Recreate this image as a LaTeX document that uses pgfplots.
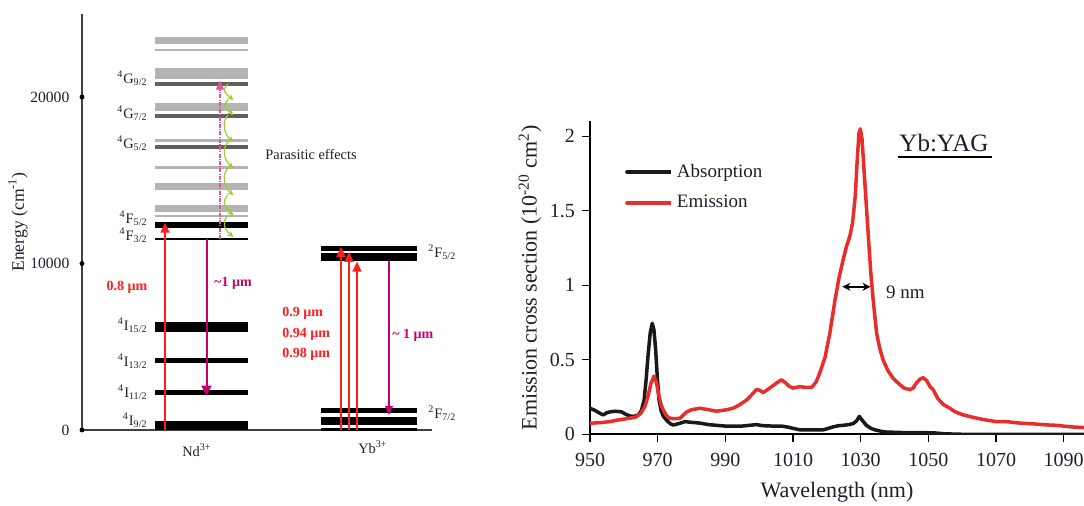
\documentclass[border=0pt]{standalone}
\usepackage{pgfplots}
\pgfplotsset{compat=1.18}
\usepackage{fontspec}
\setmainfont{Liberation Serif}
\usetikzlibrary{arrows.meta}

\definecolor{txt}{RGB}{30,30,45}
\definecolor{lgray}{RGB}{180,180,180}
\definecolor{dgray}{RGB}{95,95,95}
\definecolor{pumpred}{RGB}{255,30,30}
\definecolor{lasermag}{RGB}{200,0,110}
\definecolor{upconv}{RGB}{225,85,155}
\definecolor{relax}{RGB}{155,205,50}
\definecolor{emred}{RGB}{232,45,45}
\definecolor{absblack}{RGB}{25,25,25}

% energy level of Nd3+ (colour, energy in cm^-1, bar thickness)
\newcommand{\ndlevel}[3]{\addplot[draw=#1, line width=#3, forget plot] coordinates {(155,#2) (248,#2)};}
% energy level of Yb3+ (energy in cm^-1, bar thickness)
\newcommand{\yblevel}[2]{\addplot[draw=black, line width=#2, forget plot] coordinates {(321,#1) (417,#1)};}
% term symbol  ^{2S+1}L_J
\newcommand{\term}[3]{\textsuperscript{#1}#2\textsubscript{#3}}
% non-radiative relaxation step
\newcommand{\wig}[2]{\draw[relax, line width=0.6pt, -{Stealth[length=3pt,width=3pt]}]
  (axis cs:228,#1) .. controls +(-3pt,-3pt) and +(-5pt,4pt) .. (axis cs:233.5,#2);}

\newcommand{\lfont}{\fontsize{7.2}{8.5}\selectfont}
\newcommand{\tfont}{\fontsize{7.8}{9}\selectfont}
\newcommand{\rfont}{\fontsize{9.5}{11}\selectfont}
\newcommand{\rtick}{\fontsize{10}{12}\selectfont}
\newcommand{\rlab}{\fontsize{11}{13}\selectfont}

\pgfplotstableread{
wl   sigma
950 0.175
951.5 0.16
953 0.14
953.9 0.13
955 0.145
955.9 0.15
957.5 0.155
959.4 0.15
960.5 0.135
961.8 0.123
963 0.12
964.3 0.13
965.2 0.16
966 0.23
966.6 0.37
967.2 0.54
967.8 0.68
968.4 0.745
968.9 0.70
969.4 0.57
969.9 0.38
970.4 0.23
971 0.16
971.7 0.12
972.8 0.09
973.8 0.07
974.6 0.062
976 0.07
978.1 0.085
980 0.08
982.5 0.075
985 0.065
987.4 0.06
990 0.055
992.3 0.055
995 0.055
997 0.06
999.2 0.065
1001 0.058
1004 0.055
1006.6 0.055
1008.5 0.048
1010 0.04
1012 0.03
1015 0.03
1018.9 0.03
1020.5 0.04
1021.9 0.05
1023.5 0.058
1024.8 0.06
1026.5 0.065
1027.8 0.072
1028.8 0.09
1029.6 0.12
1030.6 0.09
1031.7 0.06
1033 0.04
1034.2 0.03
1036 0.02
1037.6 0.015
1042 0.012
1051.4 0.01
1055 0.003
1060 0
1096 0
}\absorption

\pgfplotstableread{
wl   sigma
950 0.074
953 0.078
956 0.085
958 0.095
961 0.105
963.5 0.115
965 0.14
966.2 0.185
967.2 0.26
968 0.34
968.9 0.39
969.6 0.35
970.2 0.275
971 0.2
971.7 0.16
972.6 0.125
973.6 0.107
975 0.105
976.6 0.107
977.6 0.13
978.6 0.15
980 0.165
982.5 0.175
985 0.165
987.4 0.155
989 0.16
990.5 0.165
992.3 0.175
994 0.195
996.3 0.23
998 0.27
999.2 0.30
1000.2 0.295
1001.2 0.28
1002.5 0.3
1004 0.325
1005.5 0.35
1006.6 0.365
1007.8 0.345
1009 0.32
1010 0.31
1011 0.315
1012 0.32
1013.5 0.315
1015.5 0.315
1016.8 0.35
1017.9 0.41
1019.5 0.52
1020.9 0.68
1022.4 0.90
1023.6 1.05
1024.8 1.17
1025.8 1.26
1026.8 1.33
1027.6 1.42
1028.4 1.6
1029.0 1.85
1029.5 2.02
1029.9 2.05
1030.4 1.98
1031.2 1.7
1032.2 1.35
1033 1.08
1033.7 0.9
1034.7 0.68
1035.6 0.58
1036.6 0.5
1038 0.43
1039.6 0.375
1041 0.345
1042.8 0.31
1044.5 0.30
1045.5 0.31
1046.5 0.345
1047.5 0.37
1048.5 0.38
1049.5 0.36
1050.5 0.32
1051.4 0.30
1052.8 0.24
1054.4 0.20
1056 0.18
1058 0.15
1060.3 0.13
1063 0.115
1066 0.1
1070.1 0.085
1073 0.085
1077 0.075
1081 0.07
1084.9 0.063
1088 0.06
1092 0.05
1096 0.045
}\emission

\begin{document}
\begin{tikzpicture}
\path[use as bounding box] (0,0) rectangle (542pt,253pt);

% ---------------- energy level diagram ----------------
\begin{axis}[
  scale only axis, width=175pt, height=208.125pt,
  at={(41pt,38pt)}, anchor=south west,
  xmin=82, xmax=432, ymin=0, ymax=25000,
  axis x line=bottom, axis y line=left,
  axis line style={-, line width=0.6pt, black!75},
  xtick=\empty, ytick={0,10000,20000},
  major tick length=0pt, ytick style={draw=none},
  scaled y ticks=false,
  /pgf/number format/assume math mode=true, /pgf/number format/1000 sep={},
  yticklabel style={font=\tfont, text=txt, xshift=-2.8pt},
  ylabel={Energy (cm\textsuperscript{-1})},
  ylabel style={at={(axis description cs:-0.183,0.5)}, anchor=center, font=\fontsize{8.8}{10}\selectfont, text=txt},
  clip=false,
]
\addplot[only marks, mark=*, mark size=1pt, black, forget plot] coordinates {(82,0) (82,10000) (82,20000)};

% Nd3+ manifolds
\ndlevel{lgray}{23380}{3.5pt}
\ndlevel{lgray}{22820}{0.75pt}
\ndlevel{lgray}{21440}{5.5pt}
\ndlevel{lgray}{19400}{4pt}
\ndlevel{lgray}{17390}{1.25pt}
\ndlevel{lgray}{15760}{1.75pt}
\ndlevel{lgray}{14620}{3.5pt}
\ndlevel{lgray}{13330}{3.5pt}
\ndlevel{lgray}{12850}{0.75pt}
\ndlevel{dgray}{20780}{2pt}
\ndlevel{dgray}{18860}{2pt}
\ndlevel{dgray}{17000}{2pt}
\ndlevel{black}{12310}{3pt}
\ndlevel{black}{11470}{1.25pt}
\ndlevel{black}{6190}{5pt}
\ndlevel{black}{4170}{2.75pt}
\ndlevel{black}{2230}{2.5pt}
\ndlevel{black}{280}{4.5pt}

% Yb3+ manifolds
\yblevel{10890}{2.5pt}
\yblevel{10390}{4pt}
\yblevel{1170}{2.25pt}
\yblevel{550}{4pt}
\yblevel{30}{1.85pt}

% Nd3+ transitions
\draw[pumpred, line width=0.75pt, -{Triangle[width=4.5pt,length=5pt]}] (axis cs:165,0) -- (axis cs:165,12450);
\draw[lasermag, line width=1pt, -{Triangle[width=5pt,length=5pt]}] (axis cs:206.5,11470) -- (axis cs:206.5,2060);
\draw[upconv, line width=0.6pt, dash pattern=on 2pt off 0.6pt on 0.5pt off 0.6pt, -{Triangle[width=4pt,length=4.5pt]}] (axis cs:220,11470) -- (axis cs:220,20980);
\wig{20780}{19820}
\wig{19820}{18920}
\wig{18920}{17300}
\wig{17300}{15740}
\wig{15740}{14110}
\wig{14110}{12910}
\wig{12910}{11590}

% Yb3+ transitions
\draw[pumpred, line width=0.75pt, -{Triangle[width=4.5pt,length=5pt]}] (axis cs:341,0) -- (axis cs:341,11000);
\draw[pumpred, line width=0.75pt, -{Triangle[width=4.5pt,length=5pt]}] (axis cs:349,0) -- (axis cs:349,10690);
\draw[pumpred, line width=0.75pt, -{Triangle[width=4.5pt,length=5pt]}] (axis cs:357,0) -- (axis cs:357,10110);
\draw[lasermag, line width=0.6pt, -{Triangle[width=4pt,length=4.5pt]}] (axis cs:389,10150) -- (axis cs:389,900);

% term symbols
\begin{scope}[every node/.style={font=\lfont, text=txt, inner sep=0pt}]
\node[anchor=east] at (axis cs:148,21140) {\term{4}{G}{9/2}};
\node[anchor=east] at (axis cs:148,19040) {\term{4}{G}{7/2}};
\node[anchor=east] at (axis cs:148,17240) {\term{4}{G}{5/2}};
\node[anchor=east] at (axis cs:148,12730) {\term{4}{F}{5/2}};
\node[anchor=east] at (axis cs:148,11710) {\term{4}{F}{3/2}};
\node[anchor=east] at (axis cs:148,6310) {\term{4}{I}{15/2}};
\node[anchor=east] at (axis cs:148,4140) {\term{4}{I}{13/2}};
\node[anchor=east] at (axis cs:148,2280) {\term{4}{I}{11/2}};
\node[anchor=east] at (axis cs:148,600) {\term{4}{I}{9/2}};
\node[anchor=west] at (axis cs:428,10690) {\term{2}{F}{5/2}};
\node[anchor=west] at (axis cs:428,1020) {\term{2}{F}{7/2}};
\node at (axis cs:197,-1200) {Nd\textsuperscript{3+}};
\node at (axis cs:373,-1020) {Yb\textsuperscript{3+}};
\node[anchor=west] at (axis cs:265,16520) {Parasitic effects};
\end{scope}
\begin{scope}[every node/.style={font=\fontsize{7}{8.5}\selectfont\bfseries, inner sep=0pt}]
\node[text=pumpred] at (axis cs:127,8590) {0.8 µm};
\node[text=lasermag] at (axis cs:233,8830) {\textasciitilde1 µm};
\node[text=pumpred, anchor=west] at (axis cs:282,7030) {0.9 µm};
\node[text=pumpred, anchor=west] at (axis cs:282,5770) {0.94 µm};
\node[text=pumpred, anchor=west] at (axis cs:282,4560) {0.98 µm};
\node[text=lasermag, anchor=west] at (axis cs:392,5710) {\textasciitilde{} 1 µm};
\end{scope}
\end{axis}

% ---------------- Yb:YAG cross sections ----------------
\begin{axis}[
  scale only axis, width=247pt, height=156.45pt,
  at={(295pt,35.85pt)}, anchor=south west,
  xmin=950, xmax=1096, ymin=0, ymax=2.1,
  axis x line=bottom, axis y line=left,
  axis line style={-, line width=1pt, black},
  tick align=outside, major tick length=4pt,
  tick style={black, line width=0.6pt},
  xtick={950,970,...,1090}, ytick={0,0.5,1,1.5,2},
  /pgf/number format/assume math mode=true, /pgf/number format/1000 sep={},
  ticklabel style={font=\rtick, text=txt},
  xticklabel style={yshift=-2pt},
  xlabel={Wavelength (nm)},
  ylabel={Emission cross section (10\textsuperscript{-20} cm\textsuperscript{2})},
  xlabel style={at={(axis description cs:0.5,-0.184)}, anchor=center, font=\rlab, text=txt},
  ylabel style={at={(axis description cs:-0.1215,0.5)}, anchor=center, font=\rlab, text=txt},
  legend style={draw=none, fill=none, at={(axis cs:958.5,1.87)}, anchor=north west,
    font=\rfont, text=txt, row sep=3.5pt},
  legend cell align=left,
  legend image code/.code={\draw[#1, line width=2pt, line cap=round] (0pt,0pt) -- (15pt,0pt); \path (0pt,0pt) -- (22pt,0pt);},
]
\addplot[absblack, line width=1.75pt, line join=round] table[x=wl, y=sigma] {\absorption};
\addlegendentry{Absorption}
\addplot[emred, line width=1.75pt, line join=round] table[x=wl, y=sigma] {\emission};
\addlegendentry{Emission}

\draw[black, line width=0.8pt, {Stealth[length=4pt,width=4pt]}-{Stealth[length=4pt,width=4pt]}] (axis cs:1024.6,0.99) -- (axis cs:1032.9,0.99);
\node[anchor=west, font=\rfont, text=txt, inner sep=0pt] at (axis cs:1037.4,0.95) {9 nm};
\node[font=\fontsize{12.5}{14}\selectfont, text=txt, inner sep=0pt] at (axis cs:1054.6,1.955) {Yb:YAG};
\draw[black, line width=1.2pt] (axis cs:1041,1.86) -- (axis cs:1068.8,1.86);
\end{axis}
\end{tikzpicture}
\end{document}
